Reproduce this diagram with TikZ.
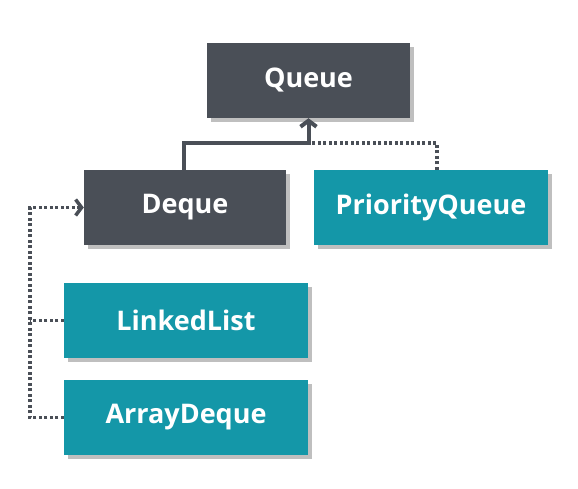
\documentclass[tikz,border=0pt]{standalone}
\usepackage{fontspec}
\setmainfont{Open Sans}
\usetikzlibrary{arrows.meta,positioning,shadows}
\definecolor{slate}{HTML}{4A4F57}
\definecolor{teal}{HTML}{1497A8}
\tikzset{
  box/.style={rectangle,minimum height=75pt,text=white,inner sep=0pt,
    font=\fontsize{27}{32}\selectfont\bfseries,
    drop shadow={shadow xshift=4pt,shadow yshift=-4pt,fill=black,opacity=0.25}},
  iface/.style={box,fill=slate},
  impl/.style={box,fill=teal},
  extends/.style={draw=slate,line width=4pt,-{Straight Barb[length=6pt,width=16pt]}},
  implements/.style={draw=slate,line width=3.5pt,dash pattern=on 3pt off 2.5pt},
}
\begin{document}
\begin{tikzpicture}[x=1pt,y=1pt,node distance=100pt,on grid]
   \useasboundingbox (0,0) rectangle (578,-488);
   \node[iface,minimum width=203pt] (queue) at (308.5,-80.5) {Queue};
   \node[iface,minimum width=202pt] (deque) [below left=127pt and 123.5pt of queue] {Deque};
   \node[impl,minimum width=234pt] (pqueue) [right=246pt of deque] {PriorityQueue};
   \node[impl,minimum width=244pt] (linkedlist) [below right=113pt and 1pt of deque] {LinkedList};
   \node[impl,minimum width=244pt] (arraydeque) [below=97pt of linkedlist] {ArrayDeque};
   \coordinate (join) at ([yshift=-25pt]queue.south);
   \coordinate (rail) at ([xshift=-34pt]linkedlist.west);
   \draw[implements] ([xshift=6pt]pqueue.north) |- (join);
   \draw[extends] ([xshift=-1pt]deque.north) |- (join) -- (queue.south);
   \draw[implements] (linkedlist.west) -- (rail);
   \draw[implements,-{Straight Barb[length=6pt,width=16pt]}] (arraydeque.west) -| (rail) |- (deque.west);
\end{tikzpicture}
\end{document}
